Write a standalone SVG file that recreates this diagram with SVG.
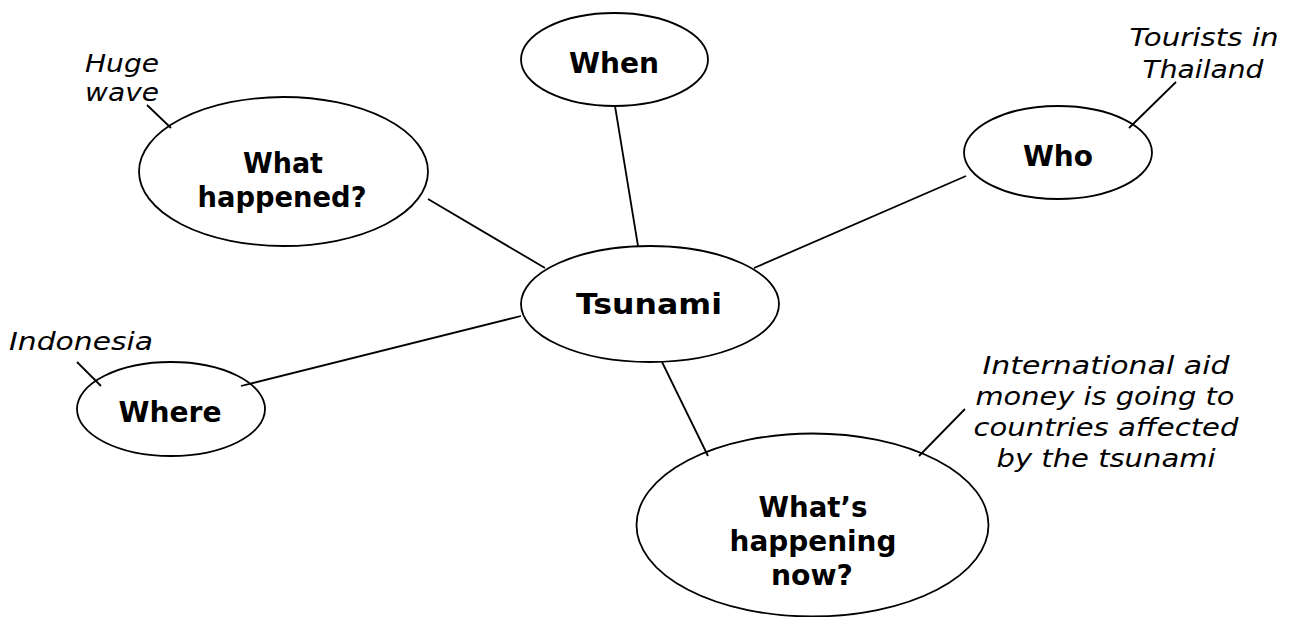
<svg xmlns="http://www.w3.org/2000/svg" width="1292" height="617" viewBox="0 0 1292 617">
<style>
  .node { fill: #ffffff; stroke: #000000; stroke-width: 1.8; }
  .lbl { font-family: "DejaVu Sans", "Liberation Sans", sans-serif; font-weight: bold; font-size: 28px; fill: #000; text-anchor: middle; }
  .note { font-family: "DejaVu Sans", "Liberation Sans", sans-serif; font-style: italic; font-size: 25px; fill: #000; text-anchor: middle; }
  .conn line { stroke: #000000; stroke-width: 1.8; }
</style>
<rect width="1292" height="617" fill="#ffffff"/>

<g id="node-what-happened">
  <ellipse class="node" cx="283.5" cy="171.5" rx="144.5" ry="74.5"/>
  <text class="lbl" x="283" y="173" textLength="80" lengthAdjust="spacingAndGlyphs">What</text>
  <text class="lbl" x="282" y="207" textLength="169" lengthAdjust="spacingAndGlyphs">happened?</text>
</g>
<g id="node-when">
  <ellipse class="node" cx="614.5" cy="59.5" rx="93.5" ry="46.5"/>
  <text class="lbl" x="614" y="73" textLength="90" lengthAdjust="spacingAndGlyphs">When</text>
</g>
<g id="node-who">
  <ellipse class="node" cx="1058" cy="152.5" rx="94" ry="46.5"/>
  <text class="lbl" x="1058" y="166" textLength="70" lengthAdjust="spacingAndGlyphs">Who</text>
</g>
<g id="node-tsunami">
  <ellipse class="node" cx="650" cy="304" rx="129" ry="58"/>
  <text class="lbl" x="649" y="314" style="font-size:29px" textLength="146" lengthAdjust="spacingAndGlyphs">Tsunami</text>
</g>
<g id="node-where">
  <ellipse class="node" cx="171" cy="409" rx="94" ry="47"/>
  <text class="lbl" x="170" y="422" textLength="103" lengthAdjust="spacingAndGlyphs">Where</text>
</g>
<g id="node-whats-happening">
  <ellipse class="node" cx="812.5" cy="525" rx="176" ry="91.5"/>
  <text class="lbl" x="813" y="517" textLength="109" lengthAdjust="spacingAndGlyphs">What’s</text>
  <text class="lbl" x="813" y="551" textLength="167" lengthAdjust="spacingAndGlyphs">happening</text>
  <text class="lbl" x="812" y="585" textLength="82" lengthAdjust="spacingAndGlyphs">now?</text>
</g>

<g id="note-huge-wave">
  <text class="note" x="122" y="72" textLength="74" lengthAdjust="spacingAndGlyphs">Huge</text>
  <text class="note" x="122" y="101" textLength="74" lengthAdjust="spacingAndGlyphs">wave</text>
</g>
<g id="note-tourists">
  <text class="note" x="1204" y="46" textLength="149" lengthAdjust="spacingAndGlyphs">Tourists in</text>
  <text class="note" x="1203" y="78" textLength="121" lengthAdjust="spacingAndGlyphs">Thailand</text>
</g>
<g id="note-indonesia">
  <text class="note" x="81" y="350" textLength="144" lengthAdjust="spacingAndGlyphs">Indonesia</text>
</g>
<g id="note-aid">
  <text class="note" x="1106" y="374" textLength="247" lengthAdjust="spacingAndGlyphs">International aid</text>
  <text class="note" x="1105" y="405" textLength="259" lengthAdjust="spacingAndGlyphs">money is going to</text>
  <text class="note" x="1106" y="436" textLength="265" lengthAdjust="spacingAndGlyphs">countries affected</text>
  <text class="note" x="1106" y="467" textLength="219" lengthAdjust="spacingAndGlyphs">by the tsunami</text>
</g>

<g id="connectors" class="conn">
  <line x1="615" y1="106" x2="638" y2="246"/>
  <line x1="428" y1="199" x2="545" y2="268"/>
  <line x1="754" y1="268" x2="966" y2="176"/>
  <line x1="241" y1="386" x2="521" y2="316"/>
  <line x1="662" y1="362" x2="708" y2="456"/>
  <line x1="147" y1="105" x2="171" y2="128"/>
  <line x1="77" y1="362" x2="101" y2="386"/>
  <line x1="1176" y1="82" x2="1129" y2="128"/>
  <line x1="965" y1="409" x2="919" y2="456"/>
</g>
</svg>
